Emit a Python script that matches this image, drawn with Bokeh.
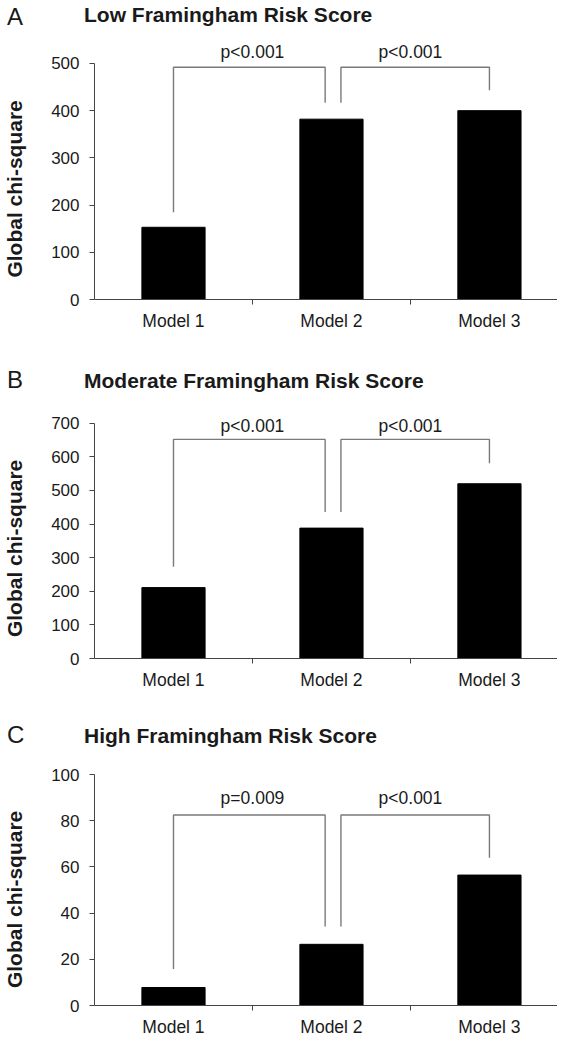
from bokeh.plotting import figure
from bokeh.layouts import column
from bokeh.models import Range1d, FixedTicker, Div
from bokeh.core.properties import value
from bokeh.embed import file_html
from bokeh.resources import INLINE

# ---------------- data ----------------
models = ["Model 1", "Model 2", "Model 3"]

letters = ["A", "B", "C"]
titles = ["Low Framingham Risk Score",
          "Moderate Framingham Risk Score",
          "High Framingham Risk Score"]
y_title = "Global chi-square"

low_vals = [153, 382, 400]
mod_vals = [211, 388, 520]
high_vals = [7.8, 26.5, 56.5]

low_p = ["p<0.001", "p<0.001"]
mod_p = ["p<0.001", "p<0.001"]
high_p = ["p=0.009", "p<0.001"]

low_ticks = [0, 100, 200, 300, 400, 500]
mod_ticks = [0, 100, 200, 300, 400, 500, 600, 700]
high_ticks = [0, 20, 40, 60, 80, 100]

# bracket tops and leg ends (data units): [left1, right1, left2, right2]
low_bracket_top = 492
low_bracket_legs = [185, 417, 417, 443]
mod_bracket_top = 652
mod_bracket_legs = [273, 436, 436, 581]
high_bracket_top = 82.5
high_bracket_legs = [15.8, 34.2, 34.2, 64]

FONT = "Liberation Sans"
TXT = "#1a1a1a"
AX = "#444444"
W = 557
LEFT = 91          # frame left inside figure
CAT_PX = 159       # pixels per category
NBSP = "\u00a0"    # used to centre the y title on the tick range


def title_div(letter, title, height, letter_top, title_top):
    html = (
        f'<div style="position:relative;width:{W}px;height:{height}px;'
        f"font-family:'{FONT}',Arial,sans-serif;color:{TXT};\">"
        f'<span style="position:absolute;left:7px;top:{letter_top}px;'
        f'font-size:24px;line-height:1;white-space:nowrap;">{letter}</span>'
        f'<span style="position:absolute;left:84px;top:{title_top}px;'
        f'font-size:21px;font-weight:bold;line-height:1;white-space:nowrap;">'
        f'{title}</span></div>'
    )
    return Div(text=html, width=W, height=height, margin=0)


def panel(vals, ticks, pvals, btop, blegs, y_end, height, min_bottom, p_y):
    n = len(models)
    xs = [i + 0.5 for i in range(n)]
    x_end = (W - LEFT) / CAT_PX
    p = figure(width=W, height=height,
               x_range=Range1d(0, x_end), y_range=Range1d(0, y_end),
               output_backend="svg", toolbar_location=None,
               min_border_left=LEFT, min_border_right=0,
               min_border_top=0, min_border_bottom=min_bottom)
    p.outline_line_color = None
    p.grid.visible = False

    p.vbar(x=xs, top=vals, width=0.4, fill_color="black", line_color="black")

    # significance brackets
    bx = [[xs[0], xs[0], xs[1] - 0.04, xs[1] - 0.04],
          [xs[1] + 0.06, xs[1] + 0.06, xs[2], xs[2]]]
    by = [[blegs[0], btop, btop, blegs[1]],
          [blegs[2], btop, btop, blegs[3]]]
    p.multi_line(xs=bx, ys=by, line_color="#7a7a7a", line_width=1.4)
    p.text(x=[1, 2], y=[p_y, p_y], text=pvals,
           text_align="center", text_baseline="middle",
           text_font=value(FONT), text_font_size="17.5px", text_color=TXT)

    # y axis
    ya = p.yaxis[0]
    ya.ticker = FixedTicker(ticks=ticks)
    ya.bounds = (ticks[0], ticks[-1])
    ya.axis_label = y_title + NBSP * 7
    ya.axis_label_text_font = FONT
    ya.axis_label_text_font_style = "bold"
    ya.axis_label_text_font_size = "21px"
    ya.axis_label_text_color = TXT
    ya.axis_label_standoff = 22
    ya.major_label_text_font = FONT
    ya.major_label_text_font_size = "17px"
    ya.major_label_text_color = TXT
    ya.major_label_standoff = 10
    ya.major_tick_out = 5
    ya.major_tick_in = 0
    ya.minor_tick_line_color = None
    ya.axis_line_color = AX
    ya.major_tick_line_color = AX

    # x axis
    xa = p.xaxis[0]
    xa.ticker = FixedTicker(ticks=xs, minor_ticks=[1, 2])
    xa.major_label_overrides = {x: m for x, m in zip(xs, models)}
    xa.major_label_text_font = FONT
    xa.major_label_text_font_size = "17.5px"
    xa.major_label_text_color = TXT
    xa.major_label_standoff = 6
    xa.major_tick_out = 0
    xa.major_tick_in = 0
    xa.minor_tick_out = 5
    xa.minor_tick_in = 0
    xa.minor_tick_line_color = AX
    xa.axis_line_color = AX
    return p


ta = title_div(letters[0], titles[0], 37, 5, 4)
pa = panel(low_vals, low_ticks, low_p, low_bracket_top, low_bracket_legs,
           y_end=555, height=305, min_bottom=43, p_y=525)
tb = title_div(letters[1], titles[1], 55, 26, 28)
pb = panel(mod_vals, mod_ticks, mod_p, mod_bracket_top, mod_bracket_legs,
           y_end=776.7, height=295, min_bottom=32, p_y=692)
tc = title_div(letters[2], titles[2], 60, 31, 33)
pc = panel(high_vals, high_ticks, high_p, high_bracket_top, high_bracket_legs,
           y_end=109.6, height=287, min_bottom=28, p_y=90)

layout = column(ta, pa, tb, pb, tc, pc, spacing=0)
open("out.html", "w").write(file_html(layout, INLINE))
